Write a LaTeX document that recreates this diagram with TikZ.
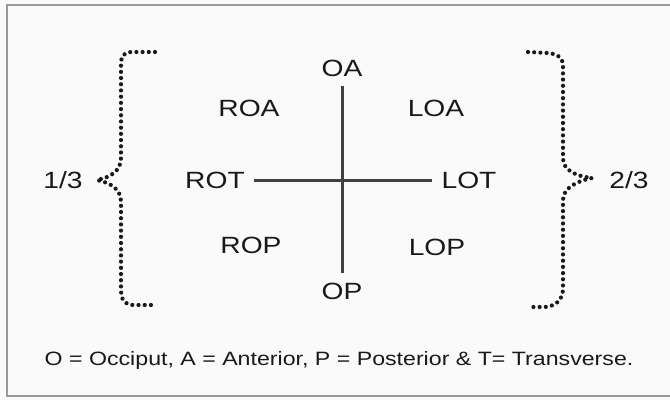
\documentclass[tikz,border=0pt]{standalone}
\usepackage{fontspec}
\setmainfont{Liberation Sans}[FakeStretch=1.2]
\begin{document}
\begin{tikzpicture}[x=1pt,y=-1pt,
    lbl/.style={text=black!90,font=\fontsize{23.5}{28}\selectfont,inner sep=0pt},
    pole/.style={lbl,inner sep=9pt},
    axis/.style={line width=3pt,black!75},
    dots/.style={line width=4.2pt,black!90,line cap=round,dash pattern=on 0pt off 6.2pt}]

  \useasboundingbox (0,0) rectangle (670,400);
  \fill[black!2] (0,0) rectangle (670,400);
  \draw[line width=2pt,black!40] (672,5) -- (7,5) -- (7,396) -- (672,396);

  % the four poles and the cross between them
  \node[pole] (OA) at (342,68) {OA};
  \node[pole] (OP) at (342,291) {OP};
  \node[pole] (ROT) at (215,180) {ROT};
  \node[pole] (LOT) at (469,180) {LOT};
  \draw[axis] (OA) -- (OP);
  \draw[axis] (ROT) -- (LOT);

  \node[lbl] (ROA) at (249,108) {ROA};
  \node[lbl] (LOA) at (436,108) {LOA};
  \node[lbl] (ROP) at (251,245) {ROP};
  \node[lbl] (LOP) at (437,247) {LOP};

  % braces
  \node[lbl] (third) at (63,180) {1/3};
  \node[lbl] (twothird) at (629,180) {2/3};
  \draw[dots] (155,52) -- (132,52) .. controls (124,52) and (121,56) .. (121,64)
    -- (121,158) .. controls (121,170) and (112,177) .. (97,180)
    .. controls (112,183) and (121,190) .. (121,202)
    -- (121,290) .. controls (121,300) and (125,305) .. (133,305) -- (155,305);
  \draw[dots] (528,52) -- (548,53) .. controls (558,54) and (563,58) .. (563,66)
    -- (563,158) .. controls (563,170) and (575,176) .. (592,178)
    .. controls (577,181) and (563,188) .. (563,200)
    -- (563,288) .. controls (563,300) and (556,306) .. (545,307) -- (533,307);

  \node[lbl,font=\fontsize{19.3}{23}\selectfont] (key) at (339,361)
    {O = Occiput, A = Anterior, P = Posterior \& T= Transverse.};
\end{tikzpicture}
\end{document}
